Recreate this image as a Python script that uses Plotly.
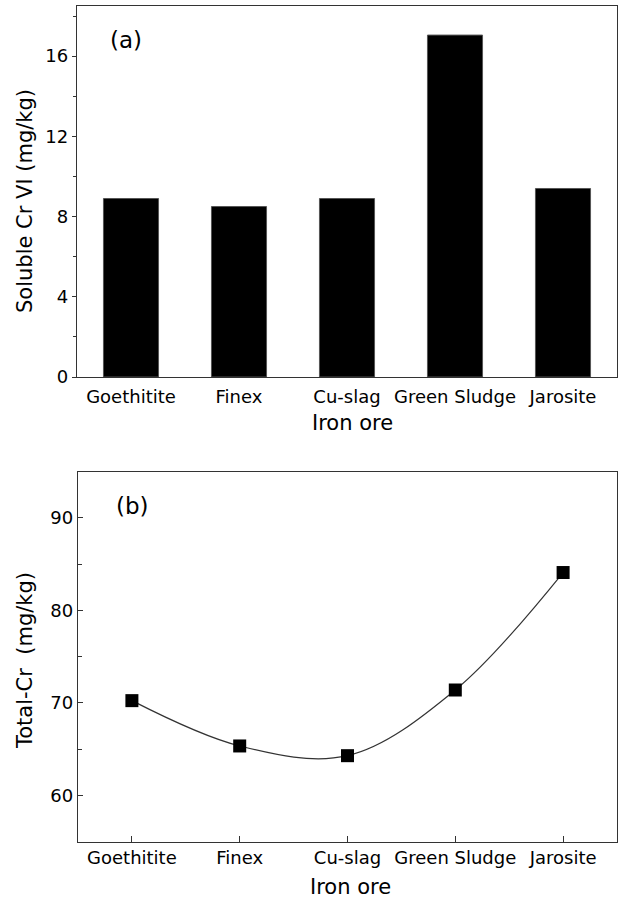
import plotly.graph_objects as go

categories = ["Goethitite", "Finex", "Cu-slag", "Green Sludge", "Jarosite"]
soluble_cr6 = [8.9, 8.5, 8.9, 17.05, 9.4]
total_cr = [70.25, 65.35, 64.3, 71.4, 84.1]
y_ticks_a = [0, 4, 8, 12, 16]
y_ticks_b = [60, 70, 80, 90]

W, H = 620, 898
FONT = "DejaVu Sans"
AX = "#333333"


def fx(p):
    return p / W


def fy(p):
    return 1 - p / H


fig = go.Figure()

fig.add_trace(go.Bar(
    x=categories, y=soluble_cr6, xaxis="x", yaxis="y",
    marker=dict(color="black", line=dict(color="#555555", width=1)),
    width=0.51, showlegend=False,
))

fig.add_trace(go.Scatter(
    x=categories, y=total_cr, xaxis="x2", yaxis="y2",
    mode="lines+markers",
    line=dict(color="#333333", width=1.2, shape="spline", smoothing=1.0),
    marker=dict(symbol="square", size=13, color="black"),
    showlegend=False,
))

tickfont = dict(family=FONT, size=18, color="#000000")

fig.update_layout(
    width=W, height=H, autosize=False,
    margin=dict(l=0, r=0, t=0, b=0, autoexpand=False),
    paper_bgcolor="white", plot_bgcolor="white",
    font=dict(family=FONT, color="#000000"),
    xaxis=dict(
        domain=[fx(77), fx(617)], anchor="y", type="category", automargin=False,
        range=[-0.5, 4.5], showline=True, mirror=True, linecolor=AX, linewidth=1.3,
        ticks="", tickfont=tickfont, showgrid=False, zeroline=False,
        ticklabelstandoff=3,
    ),
    yaxis=dict(
        domain=[fy(377), fy(6)], anchor="x", range=[0, 18.5], automargin=False,
        tickvals=y_ticks_a, showline=True, mirror=True, linecolor=AX, linewidth=1.3,
        ticks="outside", ticklen=4, tickcolor=AX, tickfont=tickfont,
        minor=dict(dtick=2, tick0=0, ticks="outside", ticklen=3, tickcolor=AX),
        showgrid=False, zeroline=False,
    ),
    xaxis2=dict(
        domain=[fx(78), fx(617)], anchor="y2", type="category", automargin=False,
        range=[-0.5, 4.5], showline=True, mirror=True, linecolor=AX, linewidth=1.3,
        ticks="inside", ticklen=6, tickcolor=AX, tickfont=tickfont,
        showgrid=False, zeroline=False,
    ),
    yaxis2=dict(
        domain=[fy(841.7), fy(471.7)], anchor="x2", range=[55, 95], automargin=False,
        tickvals=y_ticks_b, showline=True, mirror=True, linecolor=AX, linewidth=1.3,
        ticks="inside", ticklen=5, tickcolor=AX, tickfont=tickfont,
        minor=dict(dtick=5, tick0=55, ticks="inside", ticklen=4, tickcolor=AX),
        showgrid=False, zeroline=False,
    ),
)

title_font = dict(family=FONT, size=21, color="#000000")
ann = []
ann.append(dict(text="Soluble Cr VI (mg/kg)", x=fx(25), y=fy(201), xref="paper", yref="paper",
                textangle=-90, showarrow=False, font=title_font, xanchor="center", yanchor="middle"))
ann.append(dict(text="Iron ore", x=fx(352), y=fy(423), xref="paper", yref="paper",
                showarrow=False, font=title_font, xanchor="center", yanchor="middle"))
ann.append(dict(text="Total-Cr  (mg/kg)", x=fx(25), y=fy(661), xref="paper", yref="paper",
                textangle=-90, showarrow=False, font=title_font, xanchor="center", yanchor="middle"))
ann.append(dict(text="Iron ore", x=fx(350), y=fy(887), xref="paper", yref="paper",
                showarrow=False, font=title_font, xanchor="center", yanchor="middle"))
for label, cx, cy in [("(a)", 126, 40), ("(b)", 132, 506)]:
    ann.append(dict(text=label, x=fx(cx), y=fy(cy), xref="paper", yref="paper",
                    showarrow=False, font=dict(family=FONT, size=23, color="#000000"),
                    xanchor="center", yanchor="middle"))
fig.update_layout(annotations=ann)

post = (
    "document.body.style.margin='0';"
    "document.body.style.padding='0';"
    "document.body.style.overflow='hidden';"
    "var gd=document.getElementById('{plot_id}');"
    "Plotly.relayout(gd,{width:620,height:898});"
)

fig.write_html("out.html", config={"responsive": False, "displayModeBar": False},
               post_script=post)
